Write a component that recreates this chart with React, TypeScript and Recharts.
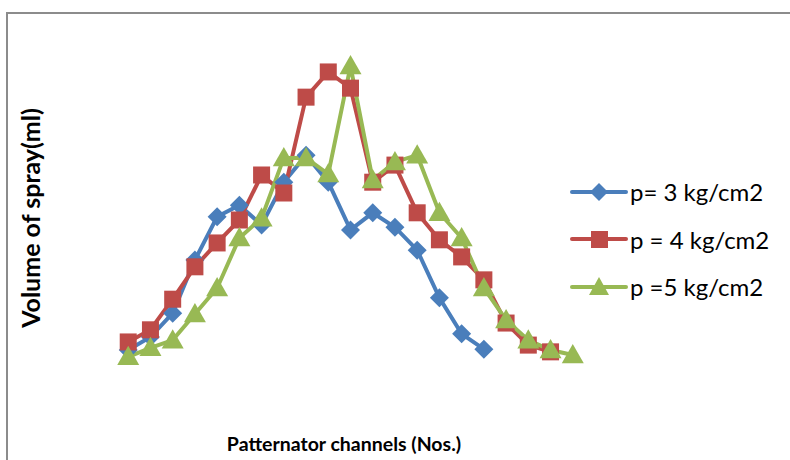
import React from "react";
import { LineChart, Line, XAxis, YAxis } from "recharts";

const channels = [1, 2, 3, 4, 5, 6, 7, 8, 9, 10, 11, 12, 13, 14, 15, 16, 17, 18, 19, 20, 21];
const p3 = [11.1, 14.0, 19.3, 31.1, 40.7, 43.3, 38.9, 48.4, 54.4, 48.4, 37.8, 41.6, 38.4, 33.3, 22.7, 14.7, 11.3];
const p4 = [12.9, 15.6, 22.4, 29.6, 34.9, 40.0, 50.0, 46.0, 67.3, 72.9, 69.3, 48.4, 52.2, 41.6, 35.6, 31.8, 26.7, 17.1, 12.2, 10.7];
const p5 = [9.6, 11.6, 13.3, 19.1, 24.9, 36.0, 40.4, 53.8, 53.8, 50.2, 74.2, 48.9, 52.9, 54.4, 41.6, 36.0, 24.9, 17.8, 13.3, 11.1, 10.0];
const seriesNames = ["p= 3 kg/cm2", "p = 4 kg/cm2", "p =5 kg/cm2"];
const xLabel = "Patternator channels (Nos.)";
const yLabel = "Volume of spray(ml)";

const data = channels.map((c, i) => ({
  ch: c,
  p3: p3[i],
  p4: p4[i],
  p5: p5[i],
}));

const BLUE = "#4A7EBB";
const RED = "#BE4B48";
const GREEN = "#98B954";

const Diamond = (props: any) => {
  const { cx, cy, index } = props;
  if (cx == null || cy == null || props.value == null) return <g key={"d" + index} />;
  const r = 9.5;
  return (
    <path
      key={"d" + index}
      d={`M${cx},${cy - r} L${cx + r},${cy} L${cx},${cy + r} L${cx - r},${cy} Z`}
      fill={BLUE}
    />
  );
};
const Square = (props: any) => {
  const { cx, cy, index } = props;
  if (cx == null || cy == null || props.value == null) return <g key={"s" + index} />;
  const h = 8.5;
  return <rect key={"s" + index} x={cx - h} y={cy - h} width={2 * h} height={2 * h} fill={RED} />;
};
const Triangle = (props: any) => {
  const { cx, cy, index } = props;
  if (cx == null || cy == null || props.value == null) return <g key={"t" + index} />;
  const s = 11;
  return (
    <path
      key={"t" + index}
      d={`M${cx},${cy - s} L${cx + s},${cy + s * 0.75} L${cx - s},${cy + s * 0.75} Z`}
      fill={GREEN}
    />
  );
};

const LegendBox = () => {
  const items = [
    { name: seriesNames[0], color: BLUE, kind: "d" },
    { name: seriesNames[1], color: RED, kind: "s" },
    { name: seriesNames[2], color: GREEN, kind: "t" },
  ];
  return (
    <div
      style={{
        position: "absolute",
        left: 568,
        top: 168,
        width: 222,
        fontFamily: "Lato, 'Open Sans', sans-serif",
        fontSize: 24,
        color: "#000",
      }}
    >
      {items.map((it, i) => (
        <div key={i} style={{ display: "flex", alignItems: "center", height: 47.5 }}>
          <svg width={60} height={24} style={{ marginRight: 2, flex: "none" }}>
            <line x1={4} y1={12} x2={58} y2={12} stroke={it.color} strokeWidth={4} strokeLinecap="round" />
            {it.kind === "d" && <path d="M31,3 L40,12 L31,21 L22,12 Z" fill={it.color} />}
            {it.kind === "s" && <rect x={23} y={4} width={17} height={17} fill={it.color} />}
            {it.kind === "t" && <path d="M31,2 L41,20 L21,20 Z" fill={it.color} />}
          </svg>
          <span style={{ whiteSpace: "nowrap" }}>{it.name}</span>
        </div>
      ))}
    </div>
  );
};

export default function App() {
  return (
    <div style={{ position: "fixed", left: 0, top: 0, width: 790, height: 460, overflow: "hidden", background: "#fff" }}>
      <div style={{ position: "absolute", left: 0, top: 0 }}>
        <LineChart width={790} height={460} data={data} margin={{ top: 40, right: 195, bottom: 60, left: 106 }}>
          <XAxis dataKey="ch" type="number" domain={[0, 22]} hide />
          <YAxis type="number" domain={[0, 80]} hide />
          <Line
            dataKey="p3"
            name={seriesNames[0]}
            stroke={BLUE}
            strokeWidth={4}
            dot={Diamond}
            isAnimationActive={false}
          />
          <Line
            dataKey="p4"
            name={seriesNames[1]}
            stroke={RED}
            strokeWidth={4}
            dot={Square}
            isAnimationActive={false}
          />
          <Line
            dataKey="p5"
            name={seriesNames[2]}
            stroke={GREEN}
            strokeWidth={4}
            dot={Triangle}
            isAnimationActive={false}
          />
        </LineChart>
      </div>
      <div style={{ position: "absolute", left: 6, top: 12, width: 2, height: 460, background: "#8c8c8c", zIndex: 5 }} />
      <div style={{ position: "absolute", left: 6, top: 12, width: 790, height: 2, background: "#8c8c8c", zIndex: 5 }} />
      <LegendBox />
      <div
        style={{
          position: "absolute",
          left: 30,
          top: 218,
          transform: "translate(-50%, -50%) rotate(-90deg)",
          whiteSpace: "nowrap",
          fontFamily: "Lato, 'Open Sans', sans-serif",
          fontWeight: 700,
          fontSize: 25,
          lineHeight: "28px",
        }}
      >
        {yLabel}
      </div>
      <div
        style={{
          position: "absolute",
          left: 344,
          top: 443,
          transform: "translate(-50%, -50%)",
          whiteSpace: "nowrap",
          fontFamily: "Lato, 'Open Sans', sans-serif",
          fontWeight: 700,
          fontSize: 19.5,
        }}
      >
        {xLabel}
      </div>
    </div>
  );
}
